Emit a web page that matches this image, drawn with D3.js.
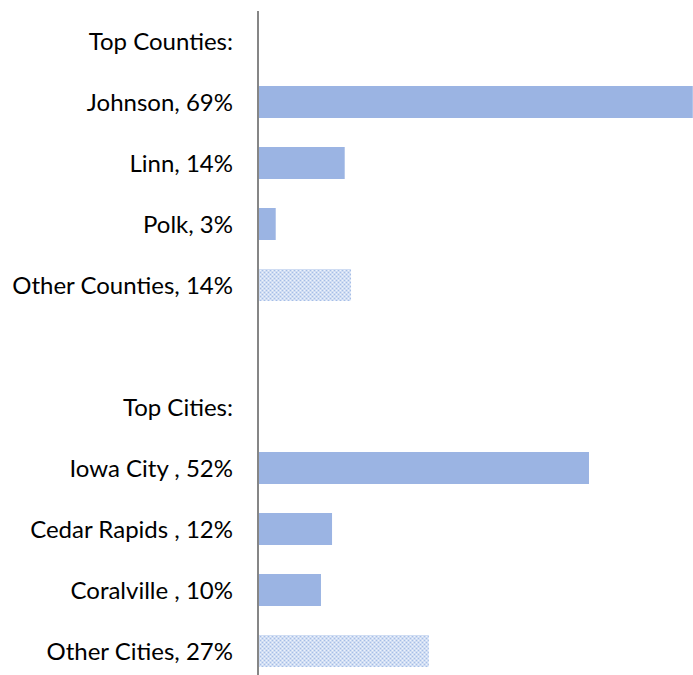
<!DOCTYPE html>
<html>
<head>
<meta charset="utf-8">
<script src="https://cdn.jsdelivr.net/npm/d3@7"></script>
<style>
  html, body { margin: 0; padding: 0; background: #ffffff; }
  svg { display: block; }
</style>
</head>
<body>
<svg id="chart" width="693" height="675"></svg>
<script>
// ---- data ----
const categories = ["Top Counties:", "Johnson, 69%", "Linn, 14%", "Polk, 3%", "Other Counties, 14%", "",
                    "Top Cities:", "Iowa City , 52%", "Cedar Rapids , 12%", "Coralville , 10%", "Other Cities, 27%"];
const values = [null, 0.687, 0.137, 0.028, 0.147, null, null, 0.523, 0.117, 0.0995, 0.270];
const otherCategories = ["Other Counties, 14%", "Other Cities, 27%"];

// ---- layout ----
const W = 693, H = 675;
const svg = d3.select("#chart");

const x = d3.scaleLinear().domain([0, 0.7]).range([258, 701]);
const y = d3.scaleBand().domain(categories).range([10.5, 681.5])
  .paddingInner(29 / 61).paddingOuter(29 / 122);

const barColor = "#9bb4e3";

// pattern for "Other" bars
const defs = svg.append("defs");
const pat = defs.append("pattern").attr("id", "dots")
  .attr("patternUnits", "userSpaceOnUse").attr("width", 4).attr("height", 4);
pat.append("rect").attr("width", 4).attr("height", 4).attr("fill", "#d0ddf3");
pat.append("rect").attr("x", 0).attr("y", 0).attr("width", 1).attr("height", 1).attr("fill", "#a6bee7");
pat.append("rect").attr("x", 2).attr("y", 2).attr("width", 1).attr("height", 1).attr("fill", "#a6bee7");
pat.append("rect").attr("x", 2).attr("y", 0).attr("width", 1).attr("height", 1).attr("fill", "#eef3fb");
pat.append("rect").attr("x", 0).attr("y", 2).attr("width", 1).attr("height", 1).attr("fill", "#eef3fb");

const data = categories.map((c, i) => ({ c, v: values[i] }));

svg.append("g").selectAll("rect")
  .data(data.filter(d => d.v != null))
  .join("rect")
  .attr("x", x(0))
  .attr("y", d => y(d.c))
  .attr("width", d => x(d.v) - x(0))
  .attr("height", y.bandwidth())
  .attr("fill", d => otherCategories.includes(d.c) ? "url(#dots)" : barColor);

// category axis
const axis = d3.axisLeft(y).tickSize(0).tickPadding(25);
const gAxis = svg.append("g").attr("transform", `translate(${x(0)},0)`).call(axis);
gAxis.select(".domain").remove();
gAxis.selectAll("text")
  .attr("font-family", "Lato, 'Open Sans', sans-serif")
  .attr("font-size", 24)
  .attr("fill", "#000000")
  .attr("dy", "0.38em");

// axis line
svg.append("line")
  .attr("x1", x(0)).attr("x2", x(0))
  .attr("y1", 11).attr("y2", H)
  .attr("stroke", "#868686").attr("stroke-width", 2);
</script>
</body>
</html>
